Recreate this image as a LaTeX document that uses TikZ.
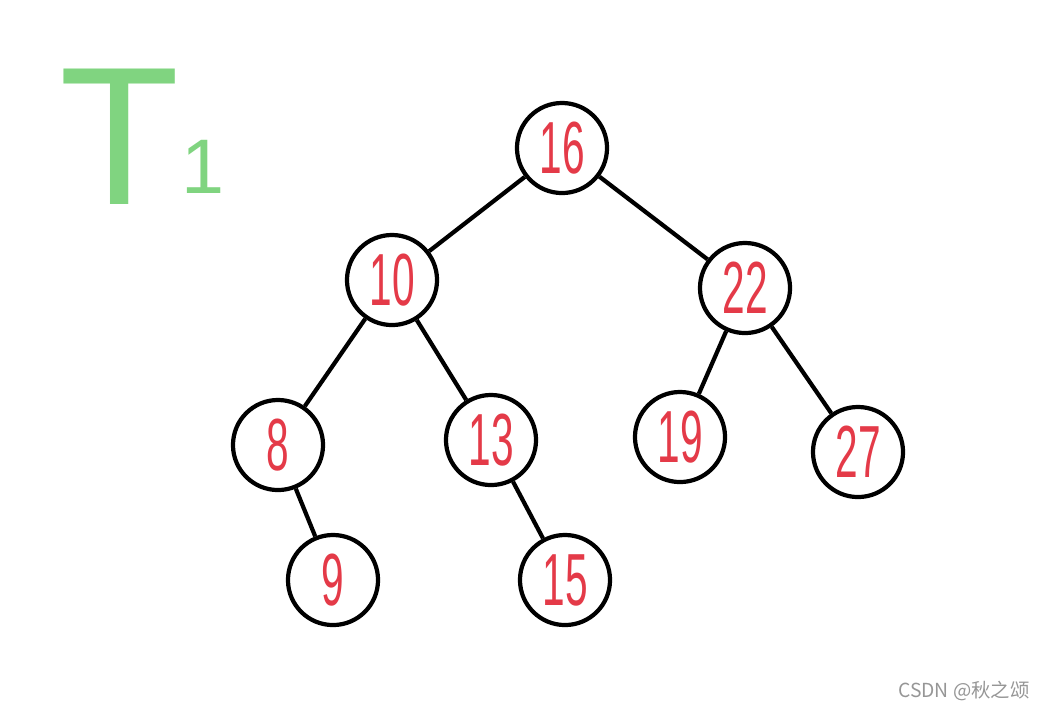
\documentclass[tikz,border=0pt]{standalone}
\usepackage{fontspec}
\usepackage{graphicx}
\setmainfont{Liberation Sans}
\newfontfamily\cjkfont{Noto Sans CJK SC}
\usepackage{tikz}
\definecolor{keyred}{RGB}{228,58,72}
\definecolor{penGreen}{RGB}{128,212,128}
\definecolor{markGray}{RGB}{150,150,150}
\newcommand{\keytext}[1]{\scalebox{0.55}[1]{#1}}
\tikzset{
treenode/.style={
	circle,
	draw=black,
	line width=1.2pt,
	fill=white,
	minimum size=0.9cm,
	inner sep=0pt,
	text=keyred,
	font=\fontsize{21}{24}\selectfont
},
edge/.style={
	draw=black,
	line width=1.2pt
}
}
\begin{document}
\begin{tikzpicture}[x=0.01cm, y=-0.01cm]
\useasboundingbox (0,0) rectangle (1058,708);
% ===== Title (green pen) =====
\node (tname) [inner sep=0pt, text=penGreen, font=\fontsize{56}{60}\selectfont] at (120,137) {T};
\node (tsub)  [inner sep=0pt, text=penGreen, font=\fontsize{22}{24}\selectfont] at (203,167) {1};
% ===== Tree nodes =====
\node (n16) [treenode] at (562,148) {\keytext{16}};
\node (n10) [treenode] at (392,280) {\keytext{10}};
\node (n22) [treenode] at (745,288) {\keytext{22}};
\node (n8)  [treenode] at (278,445) {\keytext{8}};
\node (n13) [treenode] at (491,440) {\keytext{13}};
\node (n19) [treenode] at (680,437) {\keytext{19}};
\node (n27) [treenode] at (858,452) {\keytext{27}};
\node (n9)  [treenode] at (333,580) {\keytext{9}};
\node (n15) [treenode] at (565,580) {\keytext{15}};
% ===== Edges =====
\draw [edge] (n16) -- (n10);
\draw [edge] (n16) -- (n22);
\draw [edge] (n10) -- (n8);
\draw [edge] (n10) -- (n13);
\draw [edge] (n22) -- (n19);
\draw [edge] (n22) -- (n27);
\draw [edge] (n8)  -- (n9);
\draw [edge] (n13) -- (n15);
% watermark
\node (mark) [anchor=base east, text=markGray, font=\cjkfont\fontsize{5.5}{6}\selectfont] at (1042,697) {CSDN @秋之颂};
\end{tikzpicture}
\end{document}
